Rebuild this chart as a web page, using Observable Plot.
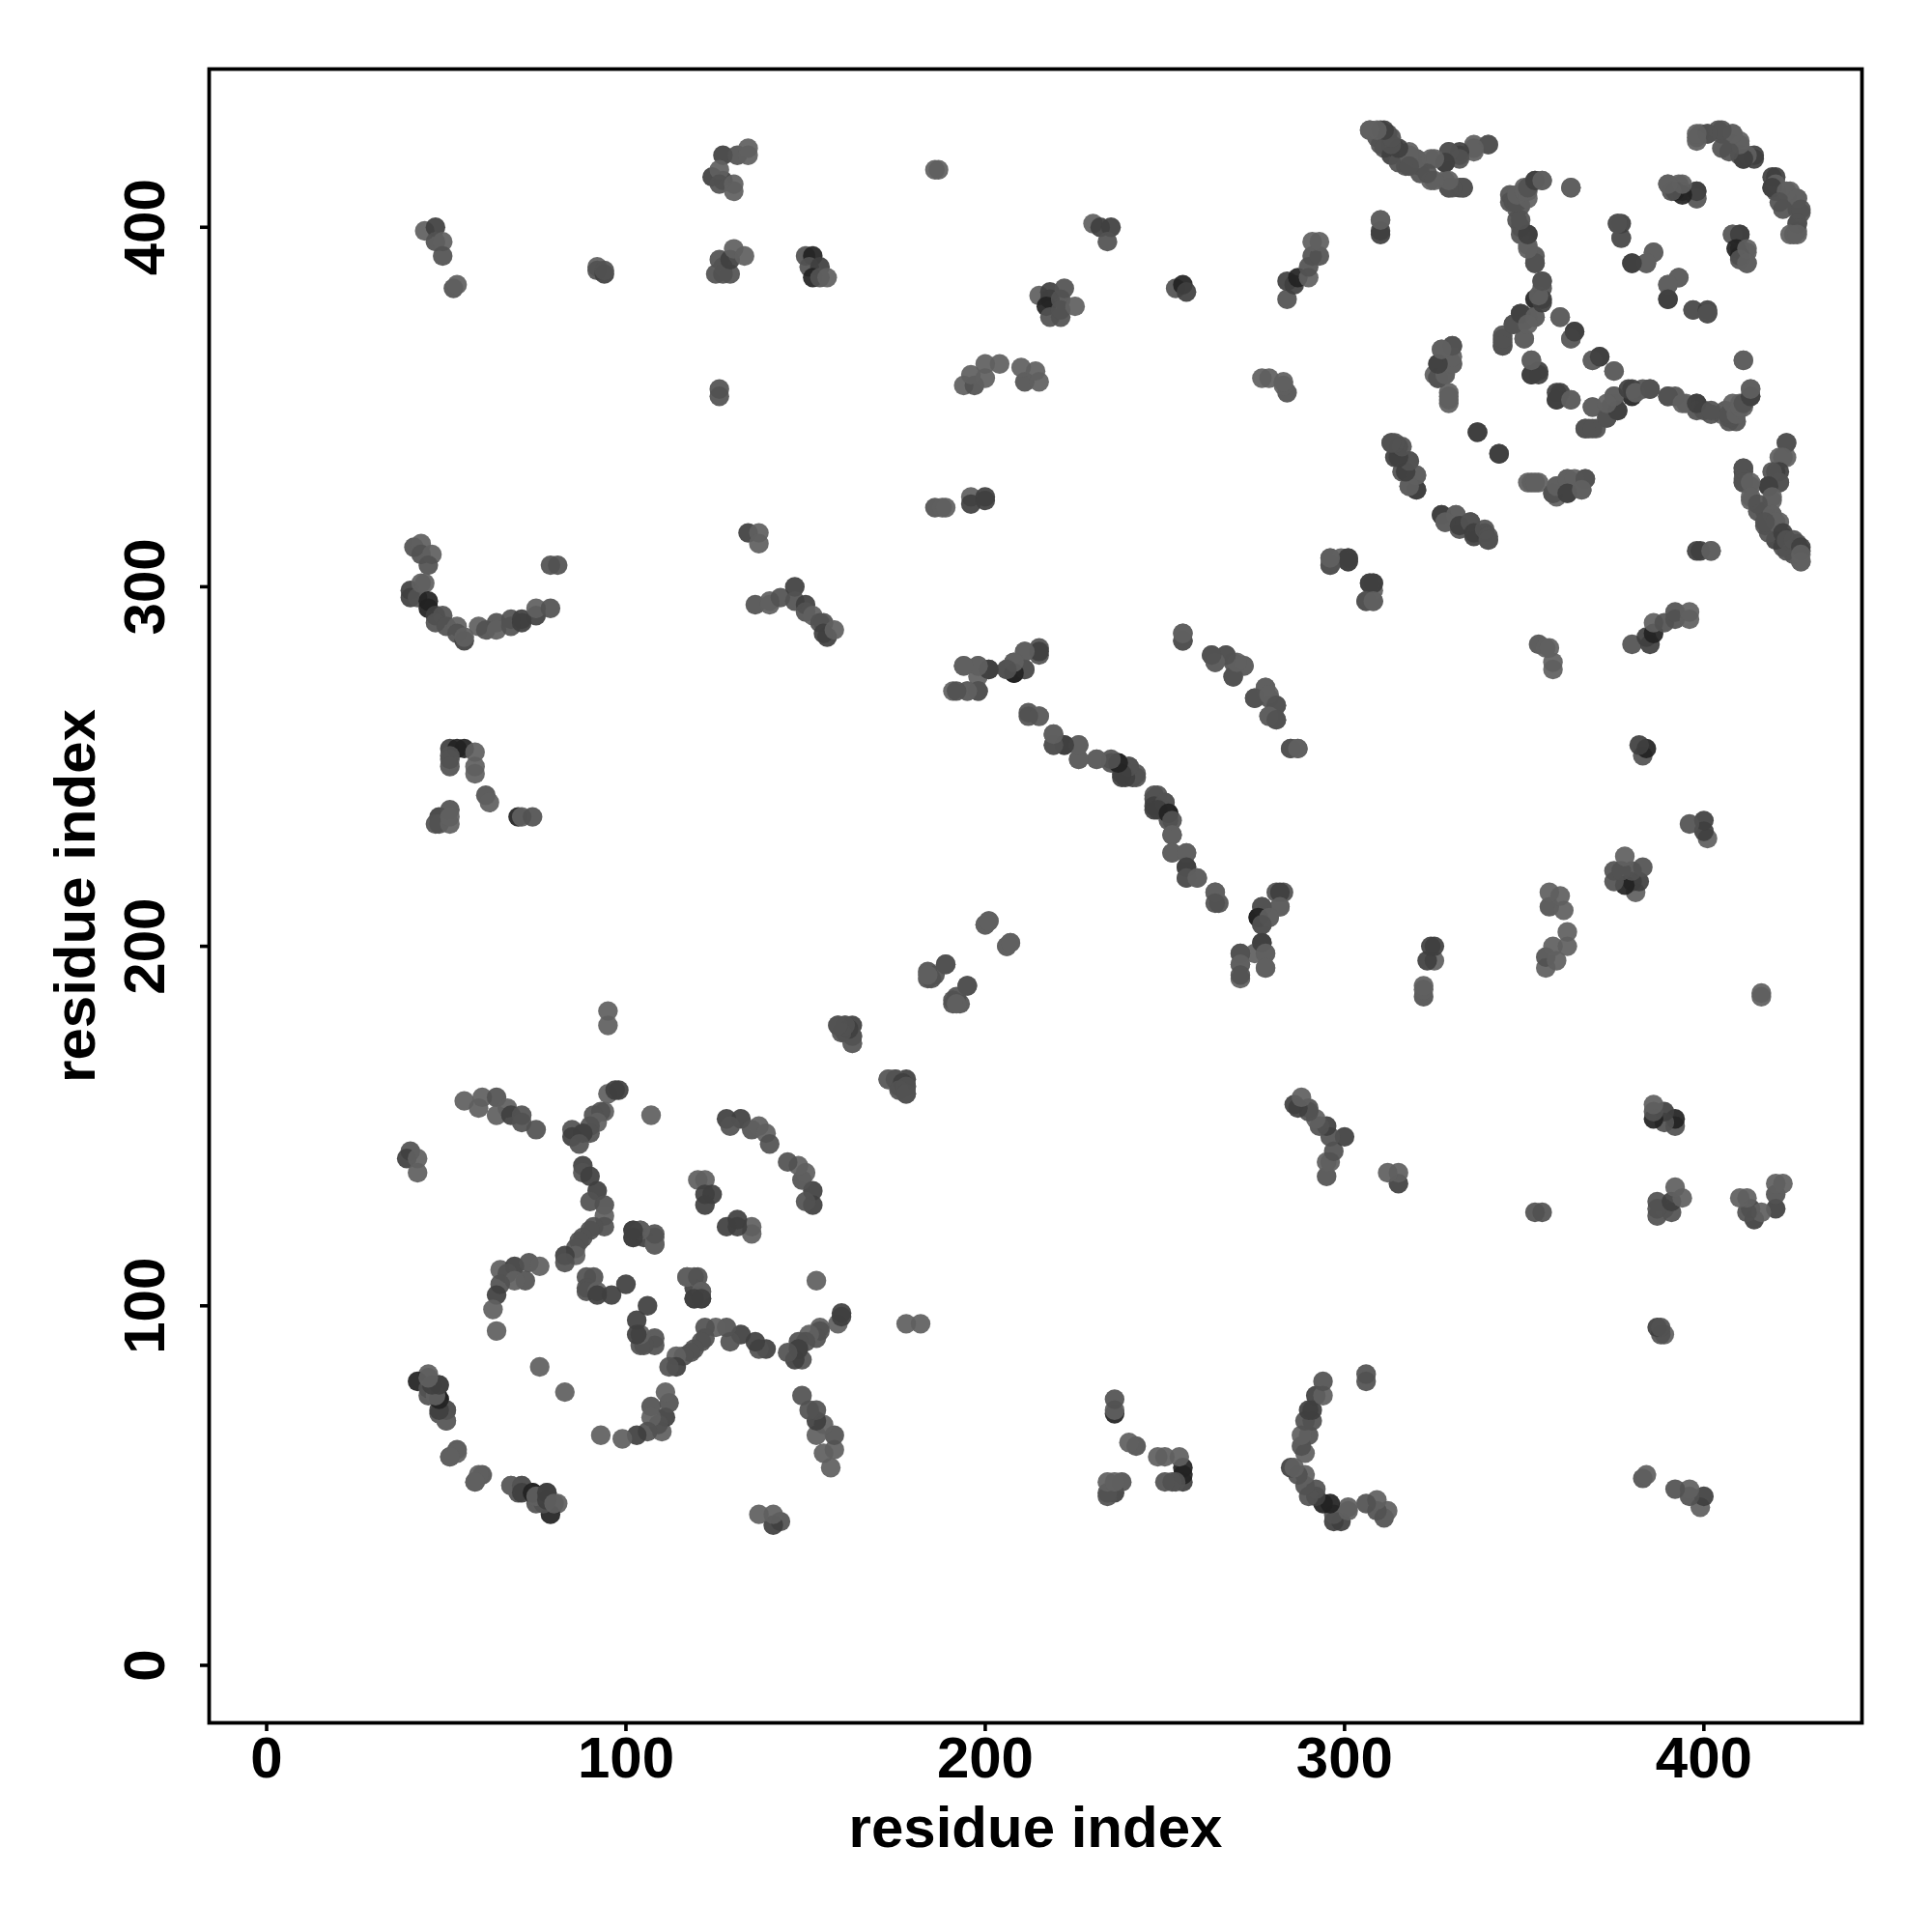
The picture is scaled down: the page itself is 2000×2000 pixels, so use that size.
<!DOCTYPE html>
<html><head><meta charset="utf-8">
<style>html,body{margin:0;padding:0;background:#fff}svg{display:block}</style>
<script src="https://cdn.jsdelivr.net/npm/d3@7"></script>
<script src="https://cdn.jsdelivr.net/npm/@observablehq/plot@0.6"></script>
</head><body><div id="chart"></div>
<script>
// Contact map: each row is [residue i, residue j, tone]; tone 1 (light) .. 4 (near black).
// The map is symmetric, so the contacts read above the diagonal are also shown at (j, i).
const tickValues = [0, 100, 200, 300, 400];
const axisLabel = "residue index";
const toneDomain = [1, 2, 3, 4];
const toneGrays = ["#606060", "#525252", "#404040", "#222222"];

const topLeft = [[44,399,1],[47,400,3],[47,396,2],[49,396,1],[49,392,2],[52,383,2],[53,384,1],
[92,389,1],[92,388,2],[94,387,3],[94,388,2],
[127,420,3],[131,420,2],[134,422,1],[134,420,1],[124,414,3],[127,413,3],[126,416,1],[126,412,2],[130,412,1],[130,410,1],
[125,387,2],[127,389,1],[126,391,2],[129,387,2],[127,387,2],[129,391,3],[130,394,1],[133,392,1],
[150,392,2],[152,392,4],[151,389,2],[154,389,3],[152,386,4],[154,386,2],[156,386,1],
[126,355,2],[126,353,2],[134,315,3],[137,315,1],[137,312,1],[79,306,2],[81,306,2]];

const arcA = [[41,311,2],[43,312,1],[43,309,2],[46,309,1],[45,306,2],
[40,299,3],[40,297,3],[42,297,2],[43,301,1],[44,301,1],[45,296,4],[45,294,4],[47,292,3],[49,292,2],[47,290,2],[50,289,2],
[53,289,1],[53,287,2],[55,285,3],[55,286,1],[59,289,1],[61,288,2],[64,290,2],[64,288,1],[68,291,2],[68,289,2],[71,290,3],[71,291,3],[75,292,3],[75,294,1],[79,294,2]];

const arcB = [[136,295,2],[140,296,1],[140,295,1],[143,297,2],[147,300,3],[147,296,2],[150,295,3],[150,293,2],[152,292,1],[154,290,2],[155,290,2],[155,287,3],[156,286,3],[158,288,1]];

const midLeft = [[51,255,3],[53,255,4],[55,255,4],[51,253,2],[51,252,2],[51,250,2],[58,254,1],[58,250,1],[58,248,1],
[61,242,2],[62,240,1],[48,236,3],[47,234,2],[48,234,2],[51,234,1],[51,238,2],[51,236,1],
[70,236,4],[71,236,1],[74,236,2],[95,182,1],[95,178,1],
[159,178,1],[161,178,2],[163,178,3],[161,176,2],[163,175,1],[163,173,1]];

const midCentre = [[194,278,1],[198,278,1],[201,277,3],[198,275,1],[191,271,1],[195,271,1],[198,271,2],
[206,277,2],[208,276,4],[208,279,1],[211,277,2],[211,282,1],[215,283,2],[215,281,2],
[212,265,2],[215,264,1],[219,259,1],[219,256,2],[222,256,3],[226,256,1],[226,252,1],[231,252,1],
[235,251,2],[237,251,4],[238,250,3],[240,250,1],[238,247,3],[241,247,3],[242,248,2],
[247,242,2],[247,239,3],[250,240,2],[248,238,3],[251,237,4],[252,235,2],[252,231,1],
[252,226,1],[256,226,1],[256,222,3],[256,219,2],[259,219,1],[264,215,1],[264,212,2],
[282,215,3],[282,211,1],[277,211,2],[276,208,4],[279,208,1],[277,206,2],
[277,201,3],[271,198,2],[278,198,1],[271,195,1],[271,192,2],[278,194,1],
[255,287,1],[255,285,2],[263,281,2],[267,281,1],[264,279,2],[269,279,2],[272,278,1],[269,275,2],
[278,272,1],[275,269,2],[279,270,1],[281,267,2],[279,264,1],[281,263,2],[285,255,2],[287,255,1],
[200,206,1],[201,207,1],[206,200,1],[207,201,1],[189,195,2],[184,193,2],[186,192,2],[184,191,2],
[195,189,2],[191,185,2],[192,184,1],
[173,163,1],[175,163,2],[177,162,3],[178,161,2],[176,160,2],[178,159,2]];

const topCentre = [[186,416,1],[187,416,1],[230,401,1],[232,400,3],[235,400,3],[234,396,2],
[215,381,1],[218,382,3],[218,380,3],[217,378,4],[221,380,2],[222,383,2],[218,375,2],[221,375,2],[221,377,2],[225,378,1],
[253,383,2],[255,384,4],[256,382,3],
[284,380,2],[284,385,3],[286,384,3],[287,386,4],[290,386,1],[290,389,2],[291,392,2],[293,392,2],[291,396,1],[293,396,1],
[194,356,1],[197,356,2],[196,359,1],[200,362,1],[204,362,1],[200,358,1],[211,357,2],[210,361,1],[214,360,1],[215,357,1],
[277,358,1],[279,358,1],[284,354,2],[283,356,1],[283,357,1],
[186,322,2],[188,322,1],[189,322,1],[196,325,1],[196,323,3],[200,325,3],[200,324,3],
[296,308,2],[296,306,2],[299,308,1],[301,308,3],[301,307,2],[307,301,3],[308,301,3],[306,296,2],[308,296,1]];

const strandTop = [[307,427,1],[310,427,3],[309,425,2],[312,426,2],[310,423,2],[313,423,3],[311,422,2],[314,422,2],[313,420,3],[318,421,1],[315,418,2],[320,419,1],[317,417,2],
[321,417,2],[321,415,2],[324,419,1],[328,418,3],[329,421,1],[332,420,3],[336,423,1],[340,423,2],
[324,413,1],[328,413,1],[329,411,1],[332,411,3],[333,411,2]];

const strandRight = [[398,425,1],[399,426,1],[401,426,3],[404,427,2],[405,426,2],[408,426,1],[410,424,1],[408,423,2],[410,422,1],[410,420,2],[411,419,2],[414,420,3],
[419,414,3],[420,412,1],[419,411,3],[423,410,1],[421,407,2],[426,408,1],[422,405,2],[427,405,2],[426,401,2],[424,398,1],[426,398,1]];

const strandCentre = [[355,413,1],[353,413,2],[350,411,1],[351,410,1],[349,409,2],[346,409,2],[346,407,2],[349,406,2],[348,405,1],[348,402,2],[349,400,2],[351,398,3],[349,398,2],[351,395,1],[353,392,2],[353,390,2],
[355,385,2],[355,383,2],[353,380,4],[355,380,3],[353,375,1],[351,375,2],[349,376,2],[350,374,2],[347,373,2],[350,369,1],[344,370,2],[344,368,2],[344,367,2],[363,411,1]];

const upperRight = [[390,412,1],[393,412,1],[394,410,2],[392,410,4],[398,410,3],[398,408,1],[376,401,3],[377,397,2],[310,402,1],[310,399,3],
[386,393,1],[384,390,1],[380,390,3],[393,386,1],[390,384,1],[390,380,3],[397,377,2],[401,377,3],[401,376,2],
[408,398,1],[410,398,3],[409,394,4],[410,391,2],[412,394,1],[412,390,1],
[360,375,1],[364,371,3],[363,369,1],[369,363,1],[371,364,3],[375,360,1],[411,363,1],
[352,363,1],[354,360,3],[352,359,3],[359,354,3],[359,352,3],[363,352,1],[369,350,1],[367,344,2],[369,344,2]];

const curveRight = [[373,347,2],[376,349,3],[375,353,1],[373,351,1],[379,355,3],[381,354,1],[385,355,2],[390,353,2],[394,351,1],[398,351,3],[402,349,2],
[407,347,2],[407,348,2],[409,348,1],[408,351,1],[410,350,1],[411,351,2],[413,353,3],[413,355,1],
[423,340,2],[421,336,1],[422,336,1],[421,332,3],[419,332,2],[421,329,2],[418,328,3],[419,325,1],
[411,333,2],[411,330,2],[411,329,2],[413,329,1],[413,325,1],[415,323,2],[419,320,1],[420,318,1],[417,318,2],[422,315,3],[423,313,2],[425,313,2],[427,311,3],[427,309,1],[427,307,1],
[398,310,3],[402,310,1]];

const innerRight = [[330,367,2],[327,366,1],[329,364,1],[326,362,1],[330,362,1],[325,359,1],[328,359,1],[326,358,2],[329,354,1],[329,352,1],[337,343,3],[343,337,3],
[351,329,1],[353,329,1],[358,326,2],[359,328,1],[362,330,1],[364,330,1],[367,330,2],[362,326,3],[366,327,1],
[313,340,2],[315,339,3],[314,336,3],[318,335,2],[316,332,2],[320,331,1],[318,328,2],[320,327,3],
[327,320,3],[331,320,1],[328,318,1],[332,317,3],[335,318,2],[336,315,3],[339,316,2],[340,314,2],[340,313,2]];

const lowerLeft = [[55,157,1],[60,158,1],[59,155,1],[64,158,2],[67,155,1],[64,153,1],[68,153,3],[71,153,2],[71,151,2],[75,149,2],
[95,159,1],[98,160,3],[97,160,3],[94,154,1],[93,154,2],[91,153,2],[92,151,1],[90,150,2],[90,148,2],[85,149,2],[85,147,3],[88,148,3],[87,145,2],[107,153,1],
[128,152,3],[132,152,3],[129,150,2],[135,149,2],[137,150,1],[139,148,1],[140,145,2],
[120,135,1],[122,135,1],[124,131,3],[122,131,3],[122,128,3],[40,143,2],[39,141,3],[42,141,1],[42,137,1],
[88,139,3],[88,137,2],[90,136,3],[92,132,3],[90,129,2],[94,128,2],[94,125,1],[94,122,2],[91,122,2],[90,121,2],[88,119,2],[87,118,2],[86,116,2],[86,114,1],[83,114,3],[83,112,2],
[102,121,3],[104,121,2],[102,119,3],[105,119,3],[108,119,1],[108,117,1],
[89,108,2],[91,108,2],[89,105,2],[89,104,2],[92,104,1],[92,103,3],[96,103,3],[100,106,3],
[117,108,1],[120,108,2],[121,104,1],[119,102,3],[121,102,3],
[65,110,1],[69,111,3],[67,109,2],[73,112,2],[76,111,1],[72,107,2],[69,107,1],[65,106,2],[64,103,3],[63,99,1],[64,93,1],[76,83,1],
[45,81,1],[42,79,4],[48,78,3],[45,77,2],[45,75,2],[48,74,4],[50,71,2],[48,70,2],[50,68,1],
[51,58,1],[53,60,2],[59,53,1],[58,51,1],[68,50,1],[71,50,2],[71,48,3],[74,48,4],[75,47,1],[78,48,3],[78,46,3],[80,45,1]];

const upper = [topLeft, arcA, arcB, midLeft, midCentre, topCentre, strandTop, strandRight, strandCentre, upperRight, curveRight, innerRight, lowerLeft].flat();
const rows = upper.flatMap(([i, j, tone]) => [{x: j, y: i, tone}, {x: i, y: j, tone}]);

const chart = Plot.plot({
  width: 2000, height: 2000,
  marginLeft: 216, marginRight: 73, marginTop: 71, marginBottom: 217,
  style: {fontFamily: "'Liberation Sans', Arial, sans-serif", background: "#fff"},
  x: {domain: [-16, 444]},
  y: {domain: [-16, 444]},
  color: {type: "ordinal", domain: toneDomain, range: toneGrays},
  marks: [
    Plot.dot(rows, {x: "x", y: "y", r: 10.2, fill: "tone", fillOpacity: 0.93}),
    Plot.frame({stroke: "#000", strokeWidth: 3.8}),
    Plot.axisX({ticks: tickValues, tickSize: 9, tickPadding: 5, strokeWidth: 3.6, fontSize: 60, fontWeight: "bold", fill: "#000",
      label: axisLabel, labelAnchor: "center", labelArrow: "none", labelOffset: 128}),
    Plot.axisY({ticks: tickValues, tickSize: 9, tickPadding: 38, strokeWidth: 3.6, fontSize: 60, fontWeight: "bold", fill: "#000",
      tickRotate: -90, textAnchor: "middle",
      label: axisLabel, labelAnchor: "center", labelArrow: "none", labelOffset: 161})
  ]
});
document.getElementById("chart").append(chart);
</script></body></html>
